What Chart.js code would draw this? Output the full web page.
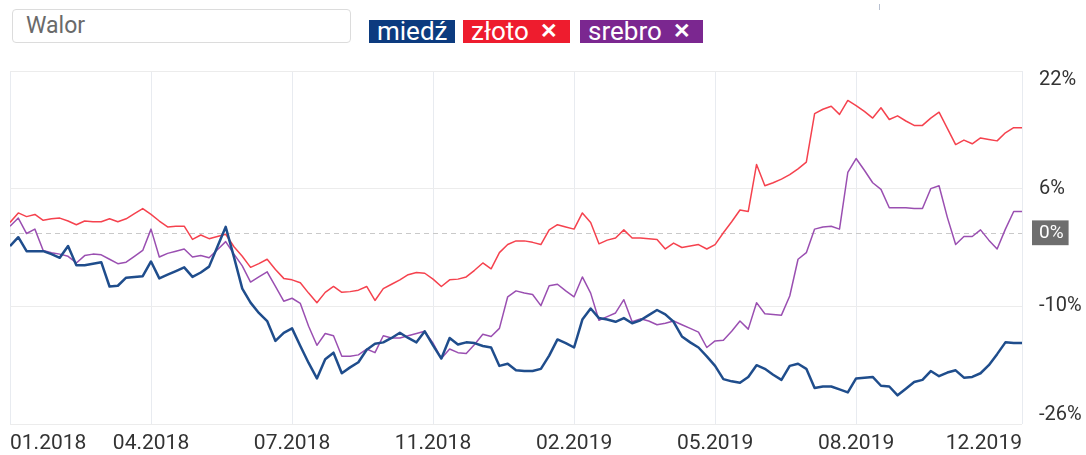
<!DOCTYPE html>
<html>
<head>
<meta charset="utf-8">
<title>Walor</title>
<script src="https://cdn.jsdelivr.net/npm/chart.js@4"></script>
<style>
  body { margin: 0; width: 1086px; height: 455px; background: #fff; position: relative; overflow: hidden; font-family: Roboto, sans-serif; }
  #walor { position: absolute; left: 12px; top: 9px; width: 339px; height: 34px; box-sizing: border-box; border: 1px solid #dcdcdc; border-radius: 4px; padding-left: 13px; line-height: 32px; font-size: 23px; color: #6a6a6a; }
  .chip { position: absolute; top: 20px; height: 23px; line-height: 23px; box-sizing: border-box; padding-left: 8px; color: #fff; font-size: 26px; white-space: nowrap; overflow: hidden; }
  .chip .x { font-weight: bold; margin-left: 11px; font-size: 21px; vertical-align: top; }
  #c1 { left: 369px; width: 86px; background: #0c3b7f; }
  #c2 { left: 463px; width: 107px; background: #ee1c2e; }
  #c3 { left: 580px; width: 123px; background: #7b2790; }
  #mark { position: absolute; left: 879px; top: 4px; width: 1px; height: 6px; background: #b8c0d0; }
  #wrap { position: absolute; left: 0; top: 60px; width: 1086px; height: 395px; }
  canvas { display: block; }
</style>
</head>
<body>
<div id="walor">Walor</div>
<div class="chip" id="c1">miedź</div>
<div class="chip" id="c2">złoto<span class="x">✕</span></div>
<div class="chip" id="c3">srebro<span class="x">✕</span></div>
<div id="mark"></div>
<div id="wrap"><canvas id="chart" width="1086" height="395"></canvas></div>
<script>
// tick positions (point index) and their labels
const tickPos = [0, 17, 34, 51, 68, 85, 102, 122];
const tickLabels = ['01.2018', '04.2018', '07.2018', '11.2018', '02.2019', '05.2019', '08.2019', '12.2019'];
const yTicks = [-26, -10, 0, 6, 22];

// % change, weekly points
const miedz = [
  -1.8, -0.6, -2.5, -2.5, -2.5, -2.9, -3.4, -1.8, -4.4, -4.4, -4.2, -4.0, -7.3, -7.2, -6.1, -6.0, -5.9, -3.9, -6.2, -5.7, -5.2, -4.7, -6.0, -5.4, -4.6,
  -1.9, 0.8, -3.3, -7.6, -9.5, -10.9, -12.0, -14.7, -13.6, -13.0, -15.4, -17.7, -19.8, -17.2, -16.3, -19.1, -18.3, -17.6, -15.9, -15.1, -14.9, -14.3, -13.6, -14.3,
  -14.9, -13.4, -15.3, -17.1, -14.3, -15.2, -14.9, -15.0, -15.4, -15.6, -18.1, -17.8, -18.7, -18.8, -18.8, -18.5, -16.7, -14.5, -15.0, -15.6, -11.8, -10.3, -11.6, -11.8, -12.1,
  -11.6, -12.3, -11.9, -11.2, -10.5, -11.1, -12.1, -14.1, -14.9, -15.6, -16.8, -18.1, -19.9, -20.2, -20.4, -19.6, -18.0, -18.5, -19.3, -20.0, -18.1, -17.8, -18.5, -21.1, -20.9,
  -20.9, -21.3, -21.7, -19.8, -19.7, -19.6, -20.8, -20.9, -22.1, -21.2, -20.3, -20.0, -18.8, -19.5, -19.0, -18.7, -19.7, -19.6, -19.1, -18.0, -16.5, -14.9, -15.0, -15.0
];
const zloto = [
  1.4, 2.7, 2.2, 2.5, 1.7, 1.9, 2.0, 1.6, 1.1, 1.6, 1.5, 1.5, 1.9, 1.5, 1.9, 2.6, 3.3, 2.5, 1.6, 0.8, 0.9, 0.9, -0.9, -0.3, -0.8,
  -0.5, -0.2, -1.9, -3.2, -4.7, -4.2, -3.6, -5.0, -6.2, -6.4, -6.8, -8.2, -9.5, -8.1, -7.3, -8.1, -8.0, -7.8, -7.3, -9.2, -7.6, -7.0, -6.4, -5.7,
  -5.4, -5.5, -6.3, -7.3, -6.4, -6.3, -6.0, -5.1, -4.1, -4.9, -2.7, -1.6, -1.1, -1.1, -1.3, -1.6, 0.4, 1.1, 0.8, 0.5, 2.7, 1.4, -1.5, -1.0, -0.7,
  0.4, -0.7, -0.7, -0.8, -0.9, -2.2, -1.4, -2.0, -1.8, -1.6, -2.2, -1.6, 0.0, 1.5, 3.1, 2.9, 9.3, 6.4, 6.8, 7.3, 7.9, 8.7, 9.6, 16.2, 16.8,
  17.2, 16.1, 18.0, 17.3, 16.5, 15.6, 17.0, 15.4, 15.9, 15.2, 14.6, 14.6, 15.6, 16.4, 14.2, 12.0, 12.6, 12.1, 12.9, 12.7, 12.5, 13.6, 14.3, 14.3
];
const srebro = [
  0.9, 2.0, -0.1, 0.5, -2.4, -2.7, -2.9, -3.2, -4.1, -3.1, -2.9, -3.0, -3.6, -4.2, -4.0, -3.2, -2.4, 0.5, -3.3, -2.8, -2.5, -2.2, -3.3, -3.1, -3.4,
  -2.3, -1.2, -2.9, -4.5, -6.7, -6.0, -5.3, -7.3, -9.3, -8.9, -9.6, -12.7, -15.3, -13.7, -14.0, -16.8, -16.8, -16.6, -15.8, -16.3, -14.0, -14.3, -14.3, -14.0,
  -13.7, -13.4, -15.0, -17.1, -15.8, -16.3, -16.4, -15.2, -13.8, -14.1, -13.0, -8.7, -7.9, -8.2, -8.4, -9.9, -7.2, -7.0, -7.9, -8.7, -6.0, -8.2, -11.9, -11.4, -10.9,
  -9.1, -12.1, -11.7, -12.0, -12.5, -12.3, -12.0, -12.5, -13.0, -13.5, -15.6, -14.7, -14.6, -13.4, -12.0, -13.1, -9.5, -11.0, -11.1, -11.2, -8.6, -3.6, -2.7, 0.5, 0.8,
  0.9, 0.5, 8.2, 10.1, 8.5, 6.8, 5.9, 3.4, 3.4, 3.4, 3.3, 3.3, 6.0, 6.4, 2.1, -1.6, -0.5, -0.5, 0.4, -1.0, -2.2, 0.5, 2.9, 2.9
];

Chart.defaults.font.family = 'Roboto';

// dashed zero line + edge label alignment like the original widget
const tweaks = {
  id: 'tweaks',
  beforeDraw(chart) {
    const xi = chart.scales.x.getLabelItems();
    if (xi.length) {
      xi[0].options.textAlign = 'left';
      xi[xi.length - 1].options.textAlign = 'right';
    }
    const ys = chart.scales.y;
    ys.getLabelItems().forEach(it => {
      if (it.label === '22%') it.options.translation[1] = ys.getPixelForValue(22) + 9;
      if (it.label === '-26%') it.options.translation[1] = ys.getPixelForValue(-26) - 9;
    });
  },
  beforeDatasetsDraw(chart) {
    const {ctx, chartArea} = chart;
    const y = Math.round(chart.scales.y.getPixelForValue(0)) + 0.5;
    ctx.save();
    ctx.strokeStyle = '#c9c9c9';
    ctx.lineWidth = 1;
    ctx.setLineDash([5, 4]);
    ctx.beginPath();
    ctx.moveTo(chartArea.left, y);
    ctx.lineTo(chartArea.right, y);
    ctx.stroke();
    ctx.restore();
  }
};

const isZero = c => !!(c.tick && c.tick.value === 0);

new Chart(document.getElementById('chart'), {
  type: 'line',
  data: {
    labels: zloto.map((v, i) => i),
    datasets: [
      { label: 'miedź', data: miedz, borderColor: '#1f4d8c', borderWidth: 2.5 },
      { label: 'złoto', data: zloto, borderColor: '#f5424e', borderWidth: 1.5 },
      { label: 'srebro', data: srebro, borderColor: '#9a4fb1', borderWidth: 1.5 }
    ]
  },
  options: {
    responsive: false,
    animation: false,
    layout: { padding: { left: 10, top: 11, right: 0, bottom: 5 } },
    elements: { point: { radius: 0 }, line: { tension: 0, borderJoinStyle: 'round' } },
    plugins: { legend: { display: false }, tooltip: { enabled: false } },
    scales: {
      x: {
        type: 'linear', min: 0, max: 122,
        afterBuildTicks: s => { s.ticks = tickPos.map(v => ({ value: v })); },
        afterFit: s => { s.paddingLeft = 0; s.paddingRight = 0; s.height = 26; },
        grid: { color: '#e8ebf0', drawTicks: false },
        border: { display: false },
        ticks: {
          padding: 7, color: '#333', font: { size: 21 }, maxRotation: 0, autoSkip: false,
          callback: v => tickLabels[tickPos.indexOf(v)]
        }
      },
      y: {
        position: 'right', min: -26, max: 22,
        afterBuildTicks: s => { s.ticks = yTicks.map(v => ({ value: v })); },
        afterFit: s => { s.width = 64; s.paddingTop = 0; s.paddingBottom = 0; },
        grid: { color: c => isZero(c) ? 'rgba(0,0,0,0)' : '#ececec', drawTicks: false },
        border: { display: false },
        ticks: {
          padding: 17,
          font: c => isZero(c) ? { size: 19 } : { size: 20 },
          color: c => isZero(c) ? '#fff' : '#333',
          showLabelBackdrop: isZero,
          backdropColor: '#6e6e6e',
          backdropPadding: { top: 1, bottom: 1, left: 7, right: 5 },
          callback: v => v + '%'
        }
      }
    }
  },
  plugins: [tweaks]
});
</script>
</body>
</html>
